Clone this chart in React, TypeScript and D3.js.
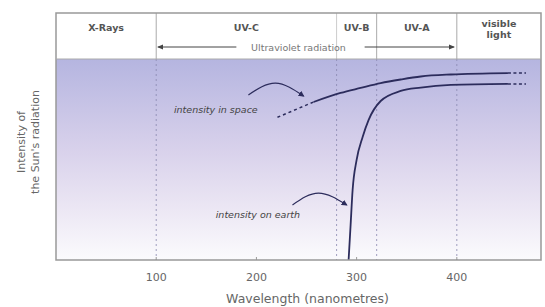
import * as d3 from "d3";

// band boundaries (nm) and header labels
const boundaries = [100, 280, 320, 400];
const bandNames = ["X-Rays", "UV-C", "UV-B", "UV-A", "visible|light"];
const xTicks = [100, 200, 300, 400];

// intensity curves [wavelength nm, relative intensity]
const spaceDashed: [number, number][] = [[221, 71], [257, 78.6]];
const spaceSolid: [number, number][] = [
  [257, 78.6], [284, 83.1], [304, 85.6], [324, 88], [344, 89.8], [364, 91.3], [394, 92.3], [451, 93],
];
const earthSolid: [number, number][] = [
  [292, 0], [294, 17.4], [296, 34.8], [300, 49.8], [306, 61.2], [312, 69.7], [324, 79.1],
  [344, 84.1], [364, 85.8], [394, 87.1], [451, 87.6],
];
const tailEnd = 469;

// annotation arcs and labels
const spaceArc: [number, number][] = [[192, 82.1], [219, 88], [247, 81.6]];
const earthArc: [number, number][] = [[236, 27.4], [262, 33.3], [290, 27.4]];
const spaceLabel = { text: "intensity in space", x: 159.5, y: 74.6 };
const earthLabel = { text: "intensity on earth", x: 201.5, y: 22.4 };

const W = 545;
const H = 307;

export default function App() {
  const x = d3.scaleLinear().domain([0, 484]).range([56, 541]);
  const y = d3.scaleLinear().domain([0, 100]).range([260, 59]);
  const headerTop = 13;
  const top = y(100);
  const bottom = y(0);

  const line = d3
    .line<[number, number]>()
    .x((d) => x(d[0]))
    .y((d) => y(d[1]))
    .curve(d3.curveMonotoneX);
  const arc = d3
    .line<[number, number]>()
    .x((d) => x(d[0]))
    .y((d) => y(d[1]))
    .curve(d3.curveNatural);

  const edges = [0, ...boundaries, 484];
  const font = "'DejaVu Sans', Verdana, sans-serif";
  const curveColor = "#2c2c5c";
  const uvMid = 242;

  return (
    <svg width={W} height={H} style={{ position: "absolute", left: 0, top: 0 }} fontFamily={font}>
      <defs>
        <linearGradient id="bg" x1="0" y1="0" x2="0" y2="1">
          <stop offset="0" stopColor="#b5b5e0" />
          <stop offset="0.45" stopColor="#d8d1eb" />
          <stop offset="0.75" stopColor="#ece7f4" />
          <stop offset="1" stopColor="#fbfbfd" />
        </linearGradient>
        <marker id="ah" viewBox="0 0 10 10" refX="8" refY="5" markerWidth="5" markerHeight="5" orient="auto">
          <path d="M0,0 L10,5 L0,10 z" fill={curveColor} />
        </marker>
        <marker id="ah2" viewBox="0 0 10 10" refX="8" refY="5" markerWidth="6" markerHeight="6" orient="auto-start-reverse">
          <path d="M0,1 L10,5 L0,9 z" fill="#444" />
        </marker>
      </defs>

      {/* header */}
      <rect x={x(0)} y={headerTop} width={x(484) - x(0)} height={top - headerTop} fill="#fff" />
      {/* plot background */}
      <rect x={x(0)} y={top} width={x(484) - x(0)} height={bottom - top} fill="url(#bg)" />

      {boundaries.map((b) => (
        <g key={b}>
          <line x1={x(b)} x2={x(b)} y1={headerTop} y2={top} stroke={b === 280 ? "#ccc" : "#aaa"} strokeWidth={1} />
          <line x1={x(b)} x2={x(b)} y1={top} y2={bottom} stroke="#8a88b0" strokeWidth={1} strokeDasharray="2,3" opacity={0.8} />
        </g>
      ))}

      {bandNames.map((n, i) => {
        const cx = x((edges[i] + edges[i + 1]) / 2);
        const parts = n.split("|");
        return (
          <text key={n} x={cx} y={parts.length > 1 ? 27 : 31} textAnchor="middle" fontSize={9.5} fontWeight="bold" fill="#555">
            {parts.map((p, j) => (
              <tspan key={j} x={cx} dy={j === 0 ? 0 : 11}>{p}</tspan>
            ))}
          </text>
        );
      })}

      {/* ultraviolet arrow */}
      <line x1={x(uvMid - 62)} x2={x(102)} y1={47} y2={47} stroke="#444" strokeWidth={1} markerEnd="url(#ah2)" />
      <line x1={x(uvMid + 66)} x2={x(397)} y1={47} y2={47} stroke="#444" strokeWidth={1} markerEnd="url(#ah2)" />
      <text x={x(uvMid)} y={50.5} textAnchor="middle" fontSize={9.5} fill="#777">Ultraviolet radiation</text>

      {/* curves */}
      <path d={line(spaceDashed) ?? ""} fill="none" stroke={curveColor} strokeWidth={1.5} strokeDasharray="3,3" />
      <path d={line(spaceSolid) ?? ""} fill="none" stroke={curveColor} strokeWidth={1.8} />
      <path d={line(earthSolid) ?? ""} fill="none" stroke={curveColor} strokeWidth={1.8} />
      {[spaceSolid, earthSolid].map((s, i) => {
        const last = s[s.length - 1];
        return (
          <line key={i} x1={x(last[0])} x2={x(tailEnd)} y1={y(last[1])} y2={y(last[1])} stroke={curveColor} strokeWidth={1.5} strokeDasharray="3,2.5" />
        );
      })}

      {/* annotations */}
      <path d={arc(spaceArc) ?? ""} fill="none" stroke={curveColor} strokeWidth={1.2} markerEnd="url(#ah)" />
      <path d={arc(earthArc) ?? ""} fill="none" stroke={curveColor} strokeWidth={1.2} markerEnd="url(#ah)" />
      {[spaceLabel, earthLabel].map((l) => (
        <text key={l.text} x={x(l.x)} y={y(l.y) + 3} textAnchor="middle" fontSize={9.5} fontStyle="italic" fill="#444">{l.text}</text>
      ))}

      {/* frame */}
      <rect x={x(0)} y={headerTop} width={x(484) - x(0)} height={bottom - headerTop} fill="none" stroke="#999" strokeWidth={1.5} />
      <line x1={x(0)} x2={x(484)} y1={top} y2={top} stroke="#aaa" strokeWidth={1} />

      {/* x axis */}
      {xTicks.map((t) => (
        <g key={t}>
          <line x1={x(t)} x2={x(t)} y1={bottom} y2={bottom - 3} stroke="#999" />
          <text x={x(t)} y={281} textAnchor="middle" fontSize={11} fill="#666">{t}</text>
        </g>
      ))}
      <text x={x(251)} y={303} textAnchor="middle" fontSize={12.5} fill="#666">Wavelength (nanometres)</text>

      {/* y axis title */}
      <text transform={`translate(25,142) rotate(-90)`} textAnchor="middle" fontSize={11} fill="#666">
        <tspan x={0} dy={0}>Intensity of</tspan>
        <tspan x={0} dy={14}>the Sun's radiation</tspan>
      </text>
    </svg>
  );
}
